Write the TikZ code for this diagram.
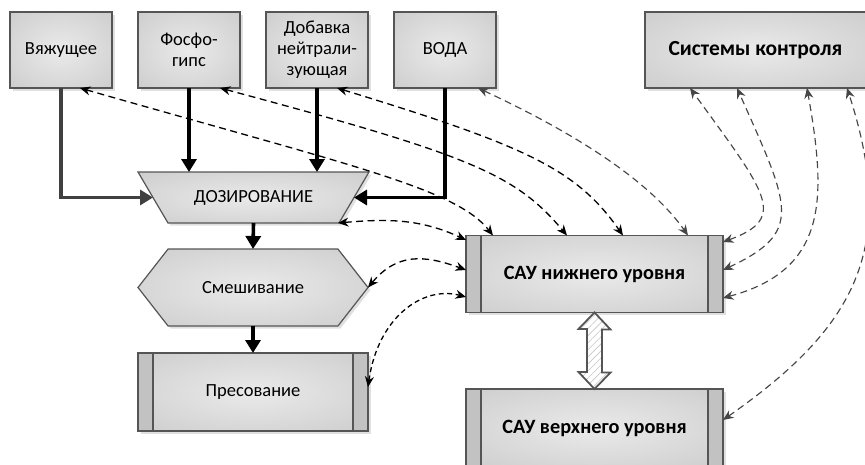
\documentclass[tikz,border=0pt]{standalone}
\usepackage{fontspec}
\setmainfont{Carlito}
\usetikzlibrary{shapes.symbols,arrows.meta,calc,patterns.meta,shadows,backgrounds}
\definecolor{bord}{RGB}{85,85,85}
\definecolor{shout}{RGB}{194,194,194}
\definecolor{shin}{RGB}{234,234,234}
\definecolor{barc}{RGB}{194,194,194}
\definecolor{darkg}{RGB}{64,64,64}
\definecolor{dgray}{RGB}{70,70,70}
\pgfdeclareradialshading{boxshade}{\pgfpoint{0bp}{0bp}}{color(0bp)=(shin); color(50bp)=(shout); color(70bp)=(shout)}
\begin{document}
\begin{tikzpicture}[x=1pt,y=1pt,
  base/.style={draw=bord, line width=1.2pt, shading=boxshade, outer sep=0pt, inner sep=2pt, align=center,
    drop shadow={shadow xshift=2.5pt, shadow yshift=-2.5pt, fill=black, opacity=0.12}},
  txt/.style={font=\fontsize{18.5}{21}\selectfont},
  box/.style={base, txt, rectangle, minimum width=102pt, minimum height=76pt},
  procbox/.style={base, txt, rectangle, minimum width=230pt, minimum height=78pt},
  saubox/.style={base, rectangle, minimum width=257pt, minimum height=77pt, font=\bfseries\fontsize{20.3}{24}\selectfont},
  mixshape/.style={base, txt, signal, signal to=west and east, signal pointer angle=104,
    minimum width=230pt, minimum height=77pt},
  bar/.style={draw=bord, line width=1.2pt, fill=barc},
  thk/.style={line width=3.6pt, -{Triangle[length=13pt,width=15pt]}},
  tips/.style={{Stealth[length=10.5pt,width=9pt]}-{Stealth[length=10.5pt,width=9pt]}},
  dsh/.style={line width=1.3pt, dash pattern=on 7pt off 4.5pt, tips},
  dshd/.style={dsh, dash pattern=on 5pt off 3.5pt},
  gdsh/.style={line width=1.15pt, dash pattern=on 7pt off 4.5pt, tips, color=dgray},
  dblarrow/.style={draw=bord, line width=1.8pt, line join=miter, preaction={fill=white},
    pattern={Lines[angle=45,distance=5pt,line width=0.6pt]}, pattern color=gray!45}
]
\useasboundingbox (0,0) rectangle (865,-464);

% top boxes
\node[box] (vyaz) at (61,-50) {Вяжущее};
\node[box] (fosfo) at (189,-50) {Фосфо-\\гипс};
\node[box] (dob) at (317,-50) {Добавка\\нейтрали-\\зующая};
\node[box] (voda) at (445,-50) {ВОДА};
\node[box, minimum width=221pt, font=\bfseries\fontsize{21.5}{24}\selectfont] (sys) at (755.5,-50) {Системы контроля};

% process chain
\node[txt, rectangle, minimum width=201pt, minimum height=51pt, inner sep=0pt, outer sep=0pt] (doz) at (253.5,-197.5) {ДОЗИРОВАНИЕ};
\begin{scope}[on background layer]
  \path[base] ($(doz.north west)+(-15,0)$) -- ($(doz.north east)+(15,0)$)
    -- ($(doz.south east)+(-15,0)$) -- ($(doz.south west)+(15,0)$) -- cycle;
\end{scope}
\node[mixshape] (mix) at (253,-287.5) {Смешивание};
\node[procbox] (press) at (253,-392) {Пресование};
\draw[bar] (press.north west) rectangle ($(press.south west)+(15,0)$);
\draw[bar] (press.north east) rectangle ($(press.south east)+(-15,0)$);

% SAU
\node[saubox] (sau1) at (594.5,-274) {САУ нижнего уровня};
\draw[bar] (sau1.north west) rectangle ($(sau1.south west)+(15,0)$);
\draw[bar] (sau1.north east) rectangle ($(sau1.south east)+(-15,0)$);
\node[saubox, minimum height=78pt] (sau2) at (594.5,-428) {САУ верхнего уровня};
\draw[bar] (sau2.north west) rectangle ($(sau2.south west)+(15,0)$);
\draw[bar] (sau2.north east) rectangle ($(sau2.south east)+(-15,0)$);

% double arrow
\draw[dblarrow] (sau1.south) -- ++(16,-17) -- ++(-8.5,0) -- ++(0,-43) -- ++(8.5,0) -- (sau2.north)
  -- ++(-16,17) -- ++(8.5,0) -- ++(0,43) -- ++(-8.5,0) -- cycle;

% material flows
\draw[thk, draw=darkg, -{Triangle[length=13pt,width=15pt,fill=darkg]}] (vyaz.south) |- (doz.west);
\draw[thk] (voda.south) |- (doz.east);
\draw[thk] (fosfo.south) -- (fosfo.south |- doz.north);
\draw[thk] (dob.south) -- (dob.south |- doz.north);
\draw[thk] (doz.south) -- (mix.north);
\draw[thk] (mix.south) -- (press.north);

% control links
\draw[dsh] ($(vyaz.south)+(19,0)$) .. controls +(-16:280) and +(128:60) .. ($(sau1.north)+(-101.5,0)$);
\draw[dsh] ($(fosfo.south)+(31,0)$) .. controls +(-15:260) and +(130:80) .. ($(sau1.north)+(-27.5,0)$);
\draw[dsh] ($(dob.south)+(20,0)$) .. controls +(-17:200) and +(125:80) .. ($(sau1.north)+(28.5,0)$);
\draw[gdsh] ($(voda.south)+(33,0)$) .. controls +(-25:100) and +(125:70) .. ($(sau1.north)+(93.5,0)$);
\draw[dsh] ($(doz.south east)+(-16,0)$) .. controls +(5:50) and +(155:50) .. ($(sau1.west)+(0,34)$);
\draw[dsh] (mix.east) .. controls +(50:45) and +(160:45) .. ($(sau1.west)+(0,4)$);
\draw[dshd] ($(press.east)+(0,5)$) .. controls +(82:70) and +(165:45) .. ($(sau1.west)+(0,-23)$);

\draw[gdsh] ($(sau1.east)+(0,32)$) .. controls +(20:70) and +(-54:130) .. ($(sys.south)+(-65.5,0)$);
\draw[gdsh] ($(sau1.east)+(0,4)$) .. controls +(25:90) and +(-66:130) .. ($(sys.south)+(-18.5,0)$);
\draw[gdsh] ($(sau1.east)+(0,-24)$) .. controls +(15:110) and +(-80:110) .. ($(sys.south)+(51.5,0)$);
\draw[gdsh] ($(sau2.east)+(0,8)$) .. controls +(35:160) and +(-72:170) .. ($(sys.south)+(91.5,0)$);
\end{tikzpicture}
\end{document}
